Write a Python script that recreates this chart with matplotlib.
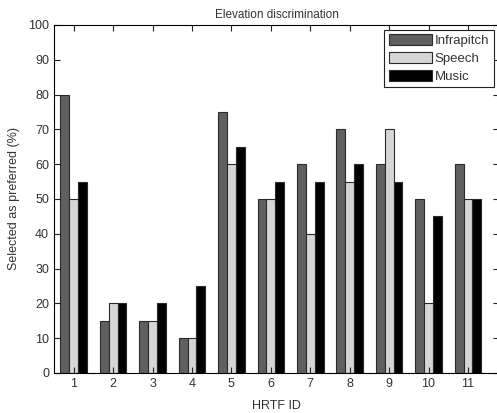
import numpy as np
import matplotlib
matplotlib.use("Agg")
from matplotlib import pyplot as plt

plt.rcParams['font.family'] = ['Liberation Sans', 'DejaVu Sans']

# preference scores per HRTF
hrtf_ids = np.arange(1, 12)
infrapitch = [80, 15, 15, 10, 75, 50, 60, 70, 60, 50, 60]
speech = [50, 20, 15, 10, 60, 50, 40, 55, 70, 20, 50]
music = [55, 20, 20, 25, 65, 55, 55, 60, 55, 45, 50]

series = [('Infrapitch', infrapitch, '#606060'),
          ('Speech', speech, '#d6d6d6'),
          ('Music', music, '#000000')]

fig = plt.figure(figsize=(4.97, 4.13), dpi=100)
ax = fig.add_axes([0.1087, 0.0969, 0.8955, 0.8426])

w = 0.225
for i, (name, vals, col) in enumerate(series):
    ax.bar(hrtf_ids + (i - 1) * w, vals, width=w, color=col,
           edgecolor='#2a2a2a', linewidth=0.8, label=name)

ax.set_xlim(0.5, 11.79)
ax.set_ylim(0, 100)
ax.set_xticks(hrtf_ids)
ax.set_yticks(np.arange(0, 101, 10))
ax.tick_params(direction='in', length=4, width=0.8, labelsize=9,
               top=True, right=True, colors='#222222', labelcolor='#333333')
for s in ax.spines.values():
    s.set_linewidth(0.8)

ax.set_title('Elevation discrimination', fontsize=8.5, pad=5, color='#333333')
ax.set_xlabel('HRTF ID', fontsize=9, labelpad=7, color='#333333')
ax.set_ylabel('Selected as preferred (%)', fontsize=9, labelpad=6,
              color='#333333')

leg = ax.legend(loc='upper right', bbox_to_anchor=(0.993, 0.928),
                bbox_transform=fig.transFigure, fontsize=9.5,
                fancybox=False, edgecolor='#222222', framealpha=1,
                handlelength=3.3, handleheight=0.9, handletextpad=0.15,
                labelspacing=0.35, borderpad=0.35, borderaxespad=0)
leg.get_frame().set_linewidth(0.8)
for t in leg.get_texts():
    t.set_color('#333333')

fig.savefig('out.png', dpi=100)
